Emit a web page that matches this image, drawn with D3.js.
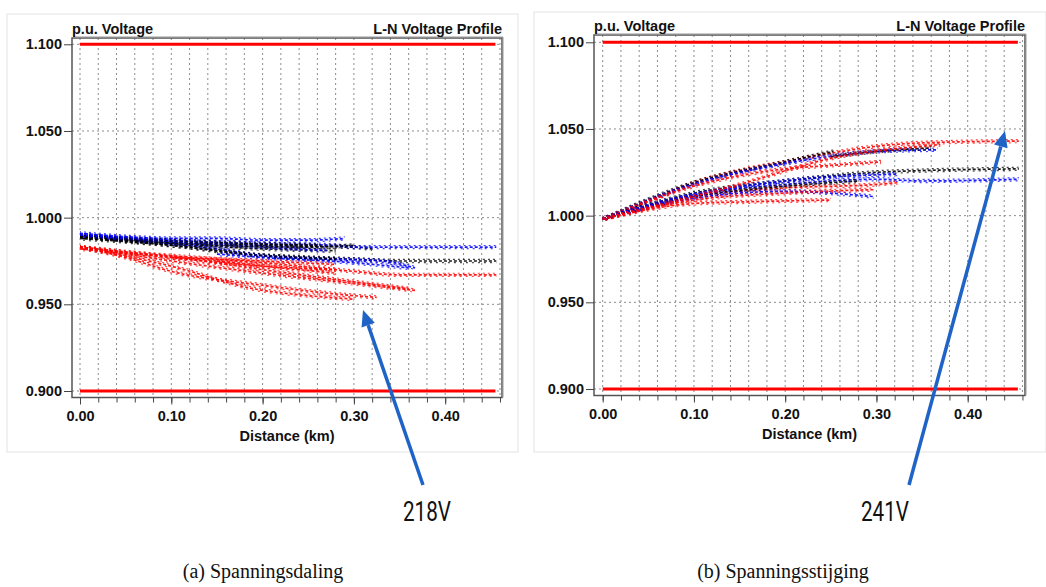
<!DOCTYPE html>
<html>
<head>
<meta charset="utf-8">
<script src="https://cdn.jsdelivr.net/npm/d3@7"></script>
<style>
  body { margin: 0; background: #fff; }
  svg { display: block; }
</style>
</head>
<body>
<svg width="1046" height="587"></svg>
<script>
const svg = d3.select("svg");

// tick values
const y_ticks = [0.900, 0.950, 1.000, 1.050, 1.100];
const x_ticks = [0.0, 0.1, 0.2, 0.3, 0.4];
const x_grid = d3.range(0, 0.461, 0.02);
const limits = [0.9, 1.1];

// (a) voltage drop: branches per phase, [km, p.u.]
const drop_red = [
  [[0,0.983],[0.05,0.980],[0.1,0.978],[0.2,0.974],[0.3,0.969],[0.35,0.967],[0.456,0.967]],
  [[0,0.983],[0.1,0.975],[0.2,0.968],[0.3,0.962],[0.367,0.958]],
  [[0,0.983],[0.05,0.977],[0.1,0.969],[0.2,0.961],[0.3,0.955],[0.325,0.954]],
  [[0,0.983],[0.1,0.972],[0.19,0.959],[0.25,0.955],[0.30,0.953]],
  [[0,0.982],[0.1,0.977],[0.2,0.972],[0.28,0.970]],
  [[0,0.983],[0.12,0.976],[0.2,0.970],[0.3,0.963],[0.36,0.959]],
  [[0.1,0.977],[0.2,0.975],[0.28,0.973]],
  [[0.15,0.975],[0.22,0.971],[0.28,0.968]]
];
const drop_black = [
  [[0,0.989],[0.1,0.986],[0.2,0.984],[0.3,0.983],[0.32,0.982]],
  [[0,0.989],[0.1,0.984],[0.18,0.979],[0.25,0.977],[0.3,0.976],[0.35,0.975],[0.456,0.975]],
  [[0,0.989],[0.1,0.985],[0.2,0.982],[0.28,0.981]],
  [[0,0.988],[0.12,0.983],[0.2,0.978],[0.28,0.976]],
  [[0,0.989],[0.08,0.987],[0.18,0.985],[0.26,0.984]],
  [[0.05,0.987],[0.15,0.984],[0.25,0.983],[0.30,0.984]]
];
const drop_blue = [
  [[0,0.991],[0.05,0.989],[0.1,0.988],[0.15,0.988],[0.2,0.987],[0.25,0.987],[0.29,0.988]],
  [[0,0.990],[0.1,0.987],[0.2,0.985],[0.28,0.984],[0.30,0.983],[0.35,0.983],[0.456,0.983]],
  [[0,0.990],[0.08,0.986],[0.15,0.982],[0.20,0.978],[0.28,0.976],[0.33,0.975],[0.367,0.971]],
  [[0.15,0.979],[0.2,0.977],[0.3,0.974],[0.36,0.971]],
  [[0,0.990],[0.1,0.986],[0.2,0.983],[0.27,0.981]]
];

// (b) voltage rise
const rise_red = [
  [[0,0.998],[0.05,1.008],[0.1,1.019],[0.15,1.026],[0.2,1.031],[0.25,1.036],[0.3,1.040],[0.35,1.042],[0.456,1.043]],
  [[0,0.998],[0.1,1.017],[0.2,1.027],[0.25,1.029],[0.305,1.031]],
  [[0,0.998],[0.1,1.011],[0.2,1.016],[0.3,1.018],[0.323,1.019]],
  [[0,0.998],[0.1,1.009],[0.2,1.013],[0.297,1.015]],
  [[0,0.998],[0.1,1.007],[0.16,1.008],[0.25,1.009]],
  [[0,0.998],[0.15,1.018],[0.25,1.033],[0.37,1.041]]
];
const rise_black = [
  [[0,0.998],[0.1,1.019],[0.2,1.031],[0.253,1.037]],
  [[0,0.998],[0.1,1.013],[0.2,1.020],[0.3,1.025],[0.35,1.026],[0.456,1.027]],
  [[0,0.998],[0.1,1.011],[0.2,1.017],[0.28,1.020]],
  [[0.25,1.034],[0.3,1.037],[0.36,1.039]]
];
const rise_blue = [
  [[0,0.998],[0.1,1.018],[0.2,1.030],[0.3,1.037],[0.367,1.038]],
  [[0,0.998],[0.1,1.012],[0.2,1.018],[0.3,1.021],[0.35,1.020],[0.456,1.021]],
  [[0,0.998],[0.1,1.010],[0.2,1.014],[0.297,1.011]],
  [[0,0.998],[0.1,1.012],[0.2,1.020],[0.323,1.024]]
];

const phase_colors = ["#ff0000", "#000000", "#0000ff"];

function draw_panel(p) {
  const g = svg.append("g");

  // panel border
  g.append("rect")
    .attr("x", p.frame[0]).attr("y", p.frame[1])
    .attr("width", p.frame[2]).attr("height", p.frame[3])
    .attr("fill", "#fff").attr("stroke", "#e3e3e3");

  const x = d3.scaleLinear().domain([0, 0.46]).range([p.x0, p.x0 + 0.46 * p.kx]);
  const y = d3.scaleLinear().domain([0.9, 1.1]).range([p.y09, p.y11]);

  const L = p.box[0], T = p.box[1], R = p.box[2], B = p.box[3];

  // grid
  g.selectAll(".vg").data(x_grid).join("line")
    .attr("x1", d => x(d)).attr("x2", d => x(d))
    .attr("y1", T).attr("y2", B)
    .attr("stroke", "#8c8c8c").attr("stroke-width", 1)
    .attr("stroke-dasharray", "2,3");
  g.selectAll(".hg").data(y_ticks).join("line")
    .attr("x1", L).attr("x2", R)
    .attr("y1", d => y(d)).attr("y2", d => y(d))
    .attr("stroke", "#8c8c8c").attr("stroke-width", 1)
    .attr("stroke-dasharray", "2,3");

  // limits
  g.selectAll(".lim").data(limits).join("line")
    .attr("x1", x(0)).attr("x2", x(0.455))
    .attr("y1", d => y(d)).attr("y2", d => y(d))
    .attr("stroke", "#ff0000").attr("stroke-width", 3);

  // profiles, phases interleaved
  const line = d3.line().x(d => x(d[0])).y(d => y(d[1])).curve(d3.curveMonotoneX);
  const n = d3.max(p.series, s => s.length);
  for (let k = 0; k < n; k++) {
    p.series.forEach((branches, i) => {
      const b = branches[k];
      if (!b) return;
      const layers = [
        { dy: 0, w: 1.7, dash: "3,2", off: 0, op: 0.9 },
        { dy: -1.6, w: 1.2, dash: "2,3", off: 1, op: 0.75 },
        { dy: 1.6, w: 1.2, dash: "2,4", off: 3, op: 0.7 }
      ];
      layers.forEach(l => {
        g.append("path")
          .attr("d", line(b))
          .attr("transform", `translate(0,${l.dy})`)
          .attr("fill", "none")
          .attr("stroke", phase_colors[i])
          .attr("stroke-width", l.w)
          .attr("stroke-dasharray", l.dash)
          .attr("stroke-dashoffset", l.off)
          .attr("opacity", l.op);
      });
    });
  }

  // frame
  g.append("rect")
    .attr("x", L).attr("y", T).attr("width", R - L).attr("height", B - T)
    .attr("fill", "none").attr("stroke", "#555").attr("stroke-width", 1.5);
  g.append("polyline")
    .attr("points", `${L + 1},${T - 1} ${R + 1},${T - 1} ${R + 1},${B}`)
    .attr("fill", "none").attr("stroke", "#999").attr("stroke-width", 1);

  // axes
  const y_axis = d3.axisLeft(y).tickValues(y_ticks).tickFormat(d3.format(".3f"))
    .tickSize(8).tickPadding(2);
  const ya = g.append("g").attr("transform", `translate(${L},0)`).call(y_axis);
  ya.select(".domain").remove();

  const x_minor = d3.axisBottom(x).tickValues(x_grid).tickFormat("").tickSize(5);
  const xm = g.append("g").attr("transform", `translate(0,${B})`).call(x_minor);
  xm.select(".domain").remove();

  const x_axis = d3.axisBottom(x).tickValues(x_ticks).tickFormat(d3.format(".2f"))
    .tickSize(7).tickPadding(6);
  const xa = g.append("g").attr("transform", `translate(0,${B})`).call(x_axis);
  xa.select(".domain").remove();

  [ya, xa].forEach(a => {
    a.selectAll("text")
      .style("font-family", "Liberation Sans, Arial, sans-serif")
      .style("font-weight", "bold").style("font-size", "14.5px").attr("fill", "#111");
    a.selectAll("line").attr("stroke", "#444");
  });
  xm.selectAll("line").attr("stroke", "#444");

  const labels = [
    [L, T - 4, "start", "p.u. Voltage"],
    [R, T - 4, "end", "L-N Voltage Profile"],
    [(L + R) / 2, B + 43, "middle", "Distance (km)"]
  ];
  labels.forEach(l => {
    g.append("text")
      .attr("x", l[0]).attr("y", l[1]).attr("text-anchor", l[2])
      .style("font-family", "Liberation Sans, Arial, sans-serif")
      .style("font-weight", "bold").style("font-size", "14.5px")
      .attr("fill", "#111").text(l[3]);
  });

  // annotation arrow
  const col = "#1f63c6";
  const dx = p.arrow[2] - p.arrow[0], dy = p.arrow[3] - p.arrow[1];
  const len = Math.hypot(dx, dy), ux = dx / len, uy = dy / len;
  const hl = 16, hw = 7;
  const bx = p.arrow[2] - ux * hl, by = p.arrow[3] - uy * hl;
  g.append("line")
    .attr("x1", p.arrow[0]).attr("y1", p.arrow[1]).attr("x2", bx).attr("y2", by)
    .attr("stroke", col).attr("stroke-width", 3.5);
  g.append("path")
    .attr("d", `M${p.arrow[2]},${p.arrow[3]} L${bx - uy * hw},${by + ux * hw} L${bx + uy * hw},${by - ux * hw} Z`)
    .attr("fill", col);

  g.append("text")
    .attr("x", p.note[0]).attr("y", p.note[1]).attr("text-anchor", "middle")
    .attr("textLength", 48).attr("lengthAdjust", "spacingAndGlyphs")
    .style("font-family", "Roboto, sans-serif").style("font-size", "28px")
    .attr("fill", "#111").text(p.note[2]);

  g.append("text")
    .attr("x", p.caption[0]).attr("y", p.caption[1]).attr("text-anchor", "middle")
    .style("font-family", "Liberation Serif, serif").style("font-size", "20px")
    .attr("fill", "#111").text(p.caption[2]);
}

draw_panel({
  frame: [7, 14, 511, 438],
  x0: 80, kx: 913, y09: 391, y11: 44.3,
  box: [72, 38, 502, 397.5],
  series: [drop_red, drop_black, drop_blue],
  arrow: [423, 485, 363, 310],
  note: [427, 521, "218V"],
  caption: [263, 578, "(a) Spanningsdaling"]
});

draw_panel({
  frame: [534, 12, 512, 440],
  x0: 602.7, kx: 912.5, y09: 389, y11: 42.3,
  box: [594, 35, 1025, 395.5],
  series: [rise_red, rise_black, rise_blue],
  arrow: [909, 485, 1005, 131],
  note: [885, 521, "241V"],
  caption: [783, 578, "(b) Spanningsstijging"]
});
</script>
</body>
</html>
